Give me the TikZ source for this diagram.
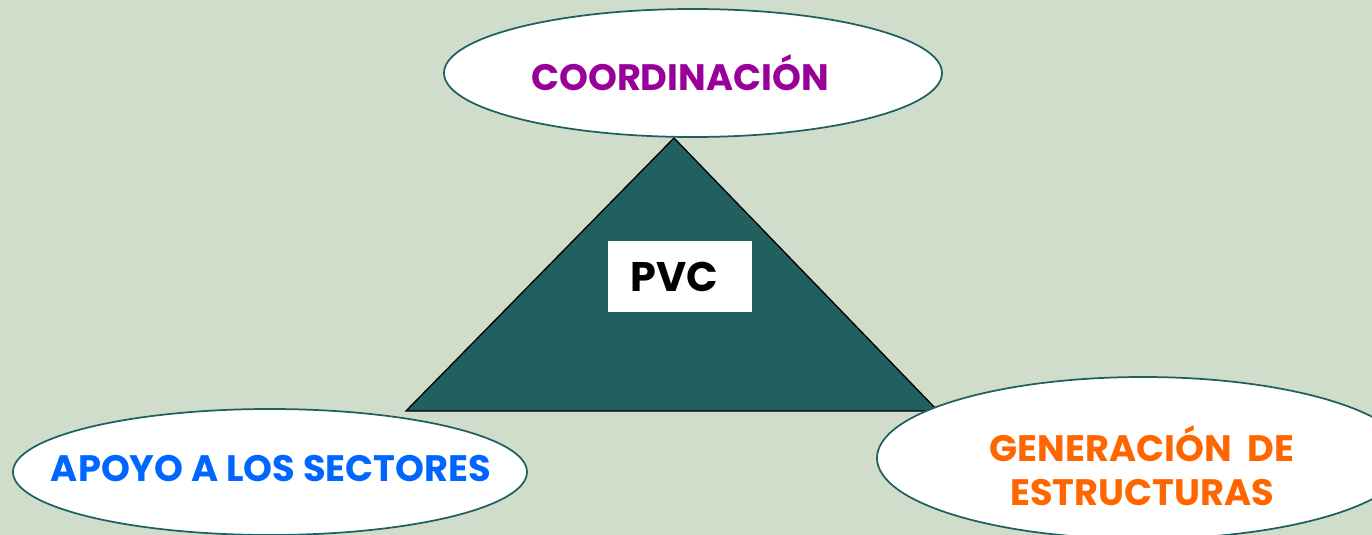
\documentclass[tikz,border=0pt]{standalone}
\usepackage{fontspec}
\setmainfont{Poppins}
\usetikzlibrary{shapes.geometric, positioning}

\definecolor{bgsage}{RGB}{209,221,203}
\definecolor{pvcteal}{RGB}{34,95,95}
\definecolor{ovalrim}{RGB}{30,96,96}
\definecolor{coordpurple}{RGB}{153,0,153}
\definecolor{apoyoblue}{RGB}{0,102,255}
\definecolor{generorange}{RGB}{255,102,0}

\tikzset{
  oval/.style={ellipse, draw=ovalrim, fill=white, line width=1.3pt, inner sep=0pt},
  ovaltext/.style={align=center, inner sep=0pt, font=\bfseries\fontsize{27.6}{33}\selectfont},
}

\begin{document}
\begin{tikzpicture}[x=0.75pt,y=0.75pt,yscale=-1,xscale=1]
\useasboundingbox (0,0) rectangle (1372,535);
\fill[bgsage] (0,0) rectangle (1372,535);
\clip (0,0) rectangle (1372,535);

%Shape: Triangle
\coordinate (apex) at (674,138);
\coordinate (baseL) at (406,411);
\coordinate (baseR) at (938,411);
\draw [fill=pvcteal, line width=1pt] (apex) -- (baseL) -- (baseR) -- cycle;

% Text Node
\node (pvc) [anchor=west, fill=white, inner xsep=16.5pt, text width=75pt, align=left,
  minimum height=53.25pt, font=\bfseries\fontsize{31}{36}\selectfont] at (608,276.5) {PVC};

%Shape: Ellipses
\node (coord) [oval, minimum width=373.5pt, minimum height=96pt] at (693,73) {};
\node (apoyo) [oval, minimum width=385.5pt, minimum height=94.5pt] at (270,472) {};
\node (gener) [oval, minimum width=399pt, minimum height=121.5pt] at (1143,458) {};

% Text Node
\node (coordtxt) [ovaltext, text=coordpurple] at (680,73) {COORDINACIÓN};
\node (apoyotxt) [ovaltext, text=apoyoblue] at (271,469) {APOYO A LOS SECTORES};
\node (genertxt) [ovaltext, text=generorange] at (1142,466) {GENERACIÓN\ \ DE\\ESTRUCTURAS};

\end{tikzpicture}
\end{document}
